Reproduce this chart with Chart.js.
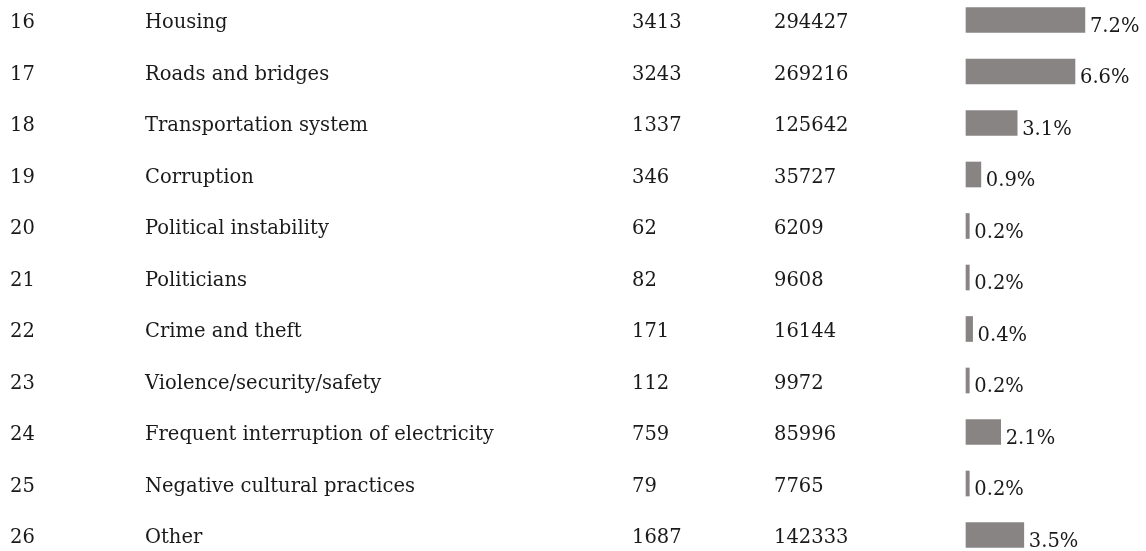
<!DOCTYPE html>
<html>
<head>
<meta charset="utf-8">
<script src="https://cdn.jsdelivr.net/npm/chart.js@4"></script>
<style>
  body { margin: 0; background: #fff; }
  #wrap { width: 1146px; height: 551px; }
</style>
</head>
<body>
<div id="wrap"><canvas id="my-chart"></canvas></div>
<script>
let ids = ["16", "17", "18", "19", "20", "21", "22", "23", "24", "25", "26"]
let categories = ["Housing", "Roads and bridges", "Transportation system", "Corruption",
    "Political instability", "Politicians", "Crime and theft", "Violence/security/safety",
    "Frequent interruption of electricity", "Negative cultural practices", "Other"]
let counts = [3413, 3243, 1337, 346, 62, 82, 171, 112, 759, 79, 1687]
let totals = [294427, 269216, 125642, 35727, 6209, 9608, 16144, 9972, 85996, 7765, 142333]
let shares = [7.2, 6.6, 3.1, 0.9, 0.2, 0.2, 0.4, 0.2, 2.1, 0.2, 3.5]

let fontFamily = "'DejaVu Serif', serif"
let textColor = "#1a1a1a"

// draws the table columns and the percent labels next to each bar
let tableText = {
    id: "tableText",
    afterDatasetsDraw(chart) {
        let ctx = chart.ctx
        let yScale = chart.scales.y
        let meta = chart.getDatasetMeta(0)
        ctx.save()
        ctx.fillStyle = textColor
        ctx.textAlign = "left"
        ctx.textBaseline = "alphabetic"
        ids.forEach((id, i) => {
            let y = yScale.getPixelForValue(i)
            ctx.font = "19.5px " + fontFamily
            ctx.fillText(id, 10, y + 8)
            ctx.fillText(categories[i], 145, y + 8)
            ctx.fillText(String(counts[i]), 632, y + 8)
            ctx.fillText(String(totals[i]), 774, y + 8)
            ctx.fillText(shares[i].toFixed(1) + "%", meta.data[i].x + 5, y + 11.5)
        })
        ctx.restore()
    }
}

new Chart("my-chart", {
    type: "bar",
    data: {
        labels: ids,
        datasets: [{
            data: shares,
            backgroundColor: "#888483",
            barThickness: 25,
            clip: false
        }]
    },
    options: {
        indexAxis: "y",
        responsive: true,
        maintainAspectRatio: false,
        animation: false,
        layout: {
            padding: {left: 966, right: 0, top: 20, bottom: 16}
        },
        scales: {
            x: {display: false, min: 0, max: 10.9},
            y: {display: false, offset: false}
        },
        plugins: {
            legend: {display: false},
            tooltip: {enabled: false}
        }
    },
    plugins: [tableText]
})
</script>
</body>
</html>
